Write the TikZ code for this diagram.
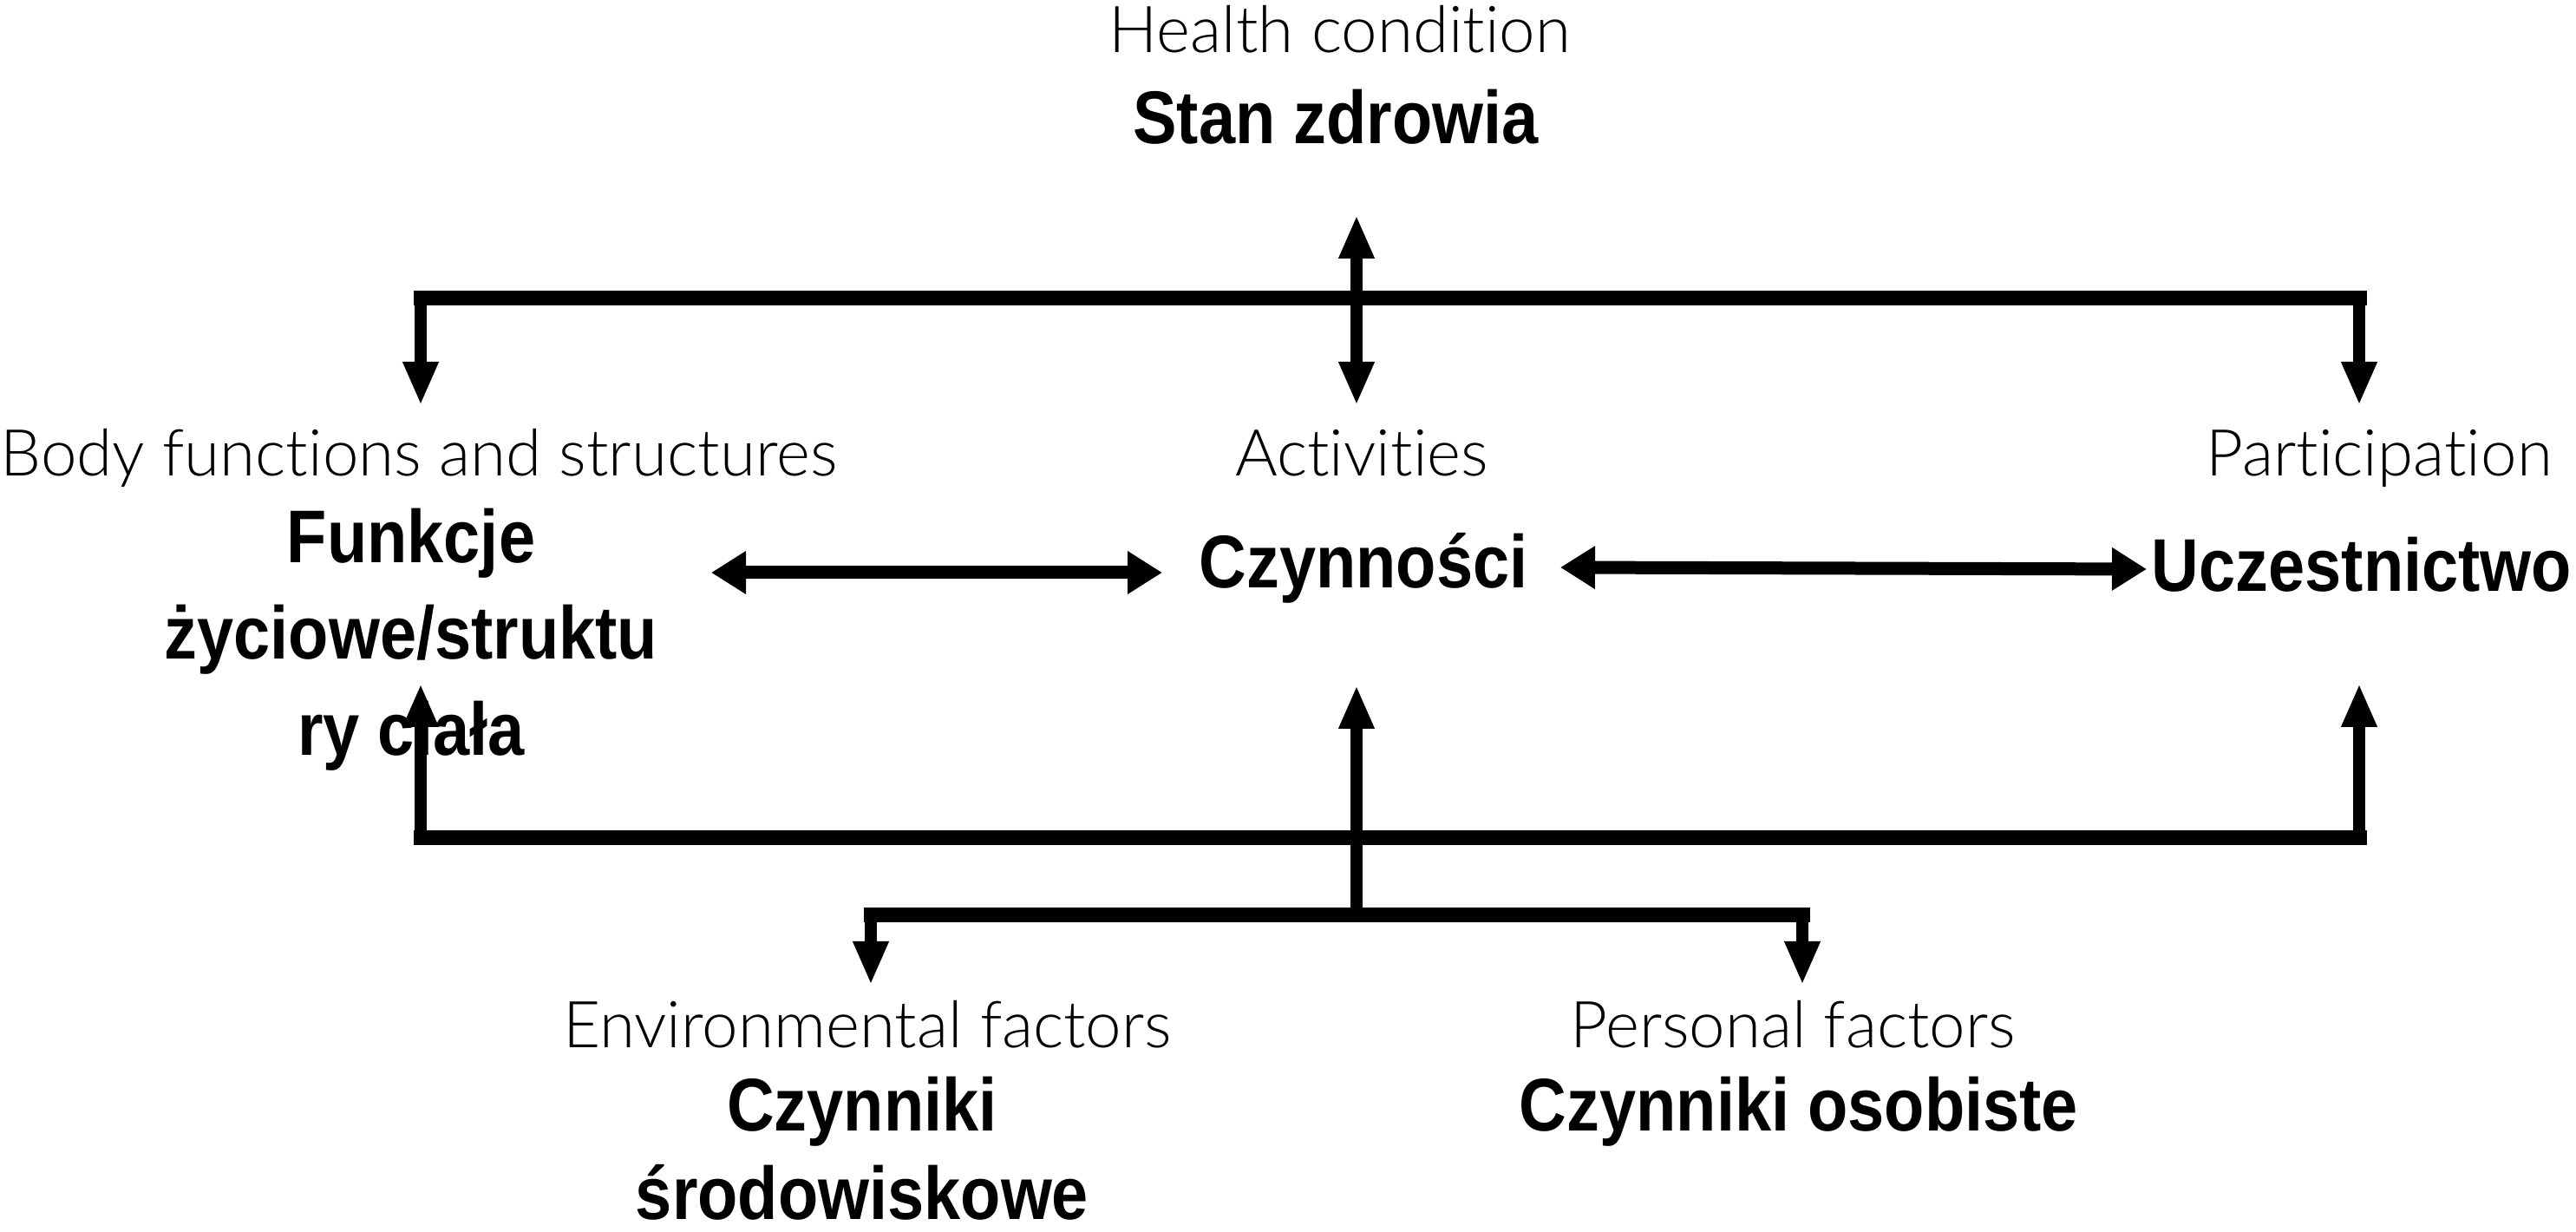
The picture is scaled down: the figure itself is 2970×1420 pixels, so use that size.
\documentclass[tikz,border=0pt]{standalone}
\usepackage{fontspec}
\setmainfont{Liberation Sans}
\newfontfamily\lightf[Ligatures=NoCommon]{Lato Light}
\newfontfamily\boldf[FakeStretch=0.88]{Liberation Sans}
\usetikzlibrary{arrows.meta}
\begin{document}
\begin{tikzpicture}[x=0.1mm,y=-0.1mm,
  en/.style={font=\lightf\fontsize{21.2}{25}\selectfont, inner sep=0pt, anchor=base},
  pl/.style={font=\boldf\bfseries\fontsize{24.5}{31.7}\selectfont, inner sep=0pt, anchor=base, align=center},
  hline/.style={line width=1.7mm, line cap=rect},
  vline/.style={line width=1.4mm},
  vtip/.style={-{Triangle[length=5mm,width=3.8mm]}},
  vtips/.style={{Triangle[length=5mm,width=3.8mm]}-{Triangle[length=5mm,width=3.8mm]}},
  htips/.style={line width=1.5mm,{Triangle[length=4mm,width=4.7mm]}-{Triangle[length=4mm,width=4.7mm]}}]
\fill[white] (0,0) rectangle (2970,1420);
\useasboundingbox (0,0) rectangle (2970,1420);

% labels
\node[en] (hcE) at (1545,61) {Health condition};
\node[pl] (hc) at (1540,166) {Stan zdrowia};
\node[en] (bfE) at (483,549) {Body functions and structures};
\node[en] (acE) at (1570,549) {Activities};
\node[en] (paE) at (2743,549) {Participation};
\node[pl] (bf) at (474,871) {Funkcje\\życiowe/struktu\\ry ciała};
\node[pl] (ac) at (1572,678) {Czynności};
\node[pl] (pa) at (2723,682) {Uczestnictwo};
\node[en] (efE) at (1000,1208) {Environmental factors};
\node[pl, font=\boldf\bfseries\fontsize{24.5}{29}\selectfont] (ef) at (994,1405) {Czynniki\\środowiskowe};
\node[en] (pfE) at (2067,1208) {Personal factors};
\node[pl] (pf) at (2074,1303) {Czynniki osobiste};

% junction coordinates
\coordinate (t1) at (485,344);
\coordinate (t2) at (2720,344);
\coordinate (bfIn) at (485,467);
\coordinate (paIn) at (2720,467);
\coordinate (hcTip) at (1564,248);
\coordinate (acTip) at (1564,467);
\coordinate (f1) at (820,660);
\coordinate (f2) at (1340,660);
\coordinate (c1) at (1799,654);
\coordinate (c2) at (2475,656);
\coordinate (b1) at (485,966);
\coordinate (b2) at (2720,966);
\coordinate (bfUp) at (485,788);
\coordinate (paUp) at (2720,788);
\coordinate (acUp) at (1564,790);
\coordinate (l0) at (1564,1055);
\coordinate (l1) at (1004,1055);
\coordinate (l2) at (2078,1055);
\coordinate (efIn) at (1004,1135);
\coordinate (pfIn) at (2078,1135);

% top distribution
\draw[hline] (t1) -- (t2);
\draw[vline,vtip] (t1) -- (bfIn);
\draw[vline,vtip] (t2) -- (paIn);
\draw[vline,vtips] (hcTip) -- (acTip);

% horizontal links
\draw[htips] (f1) -- (f2);
\draw[htips] (c1) -- (c2);

% bottom collection
\draw[hline] (b1) -- (b2);
\draw[vline,vtip] (b1) -- (bfUp);
\draw[vline,vtip] (b2) -- (paUp);
\draw[vline,vtip] (l0) -- (acUp);
\draw[hline] (l1) -- (l2);
\draw[vline,vtip] (l1) -- (efIn);
\draw[vline,vtip] (l2) -- (pfIn);
\end{tikzpicture}
\end{document}
